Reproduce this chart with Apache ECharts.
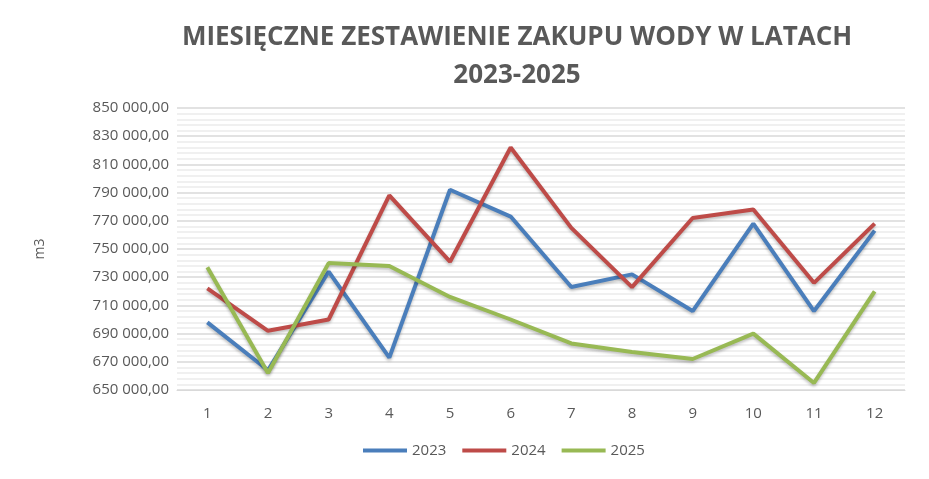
<!DOCTYPE html>
<html>
<head>
<meta charset="utf-8">
<script src="https://cdn.jsdelivr.net/npm/echarts@6/dist/echarts.min.js"></script>
<style>html,body{margin:0;padding:0;background:#fff}#main{width:929px;height:479px}</style>
</head>
<body>
<div id="main"></div>
<script>
const months = ['1', '2', '3', '4', '5', '6', '7', '8', '9', '10', '11', '12'];
const water2023 = [698000, 664000, 734000, 673000, 792000, 773000, 723000, 732000, 706000, 768000, 706000, 763000];
const water2024 = [722000, 692000, 700000, 788000, 741000, 822000, 765000, 723000, 772000, 778000, 726000, 768000];
const water2025 = [737000, 662000, 740000, 738000, 716000, 700000, 683000, 677000, 672000, 690000, 655000, 720000];

const fmt = v => {
    const s = Math.round(v).toString().replace(/\B(?=(\d{3})+(?!\d))/g, ' ');
    return s + ',00';
};

const mk = (name, data, color) => ({
    name, type: 'line', data, symbol: 'none',
    lineStyle: { width: 4, color, shadowColor: 'rgba(0,0,0,0.25)', shadowBlur: 3, shadowOffsetY: 2 },
    itemStyle: { color }
});

const chart = echarts.init(document.getElementById('main'));
chart.setOption({
    animation: false,
    textStyle: { fontFamily: 'Open Sans' },
    title: {
        text: 'MIESIĘCZNE ZESTAWIENIE ZAKUPU WODY W LATACH\n2023-2025',
        left: 512, top: 14, textAlign: 'center',
        textStyle: { fontSize: 26, fontWeight: 'bold', color: '#595959', lineHeight: 38 }
    },
    legend: {
        bottom: 16, left: 358, itemWidth: 44, itemHeight: 4, itemGap: 16,
        icon: 'rect',
        textStyle: { fontSize: 15, color: '#595959' }
    },
    grid: { left: 177, right: 24, top: 108, bottom: 89 },
    xAxis: {
        type: 'category', data: months, boundaryGap: true,
        axisLine: { lineStyle: { color: '#d9d9d9' } },
        axisTick: { show: false },
        axisLabel: { fontSize: 15, color: '#595959', margin: 16 }
    },
    yAxis: {
        type: 'value', min: 650000, max: 850000, interval: 20000,
        name: 'm3', nameLocation: 'middle', nameGap: 130, nameRotate: 90,
        nameTextStyle: { fontSize: 14, color: '#595959' },
        axisLabel: { fontSize: 15, color: '#595959', formatter: fmt },
        splitLine: { lineStyle: { color: '#d9d9d9', width: 1.5 } },
        minorTick: { show: false, splitNumber: 5 },
        minorSplitLine: { show: true, lineStyle: { color: '#ececec', width: 1.5 } }
    },
    series: [
        mk('2023', water2023, '#4a7ebb'),
        mk('2024', water2024, '#be4b48'),
        mk('2025', water2025, '#98b954')
    ]
});
</script>
</body>
</html>
